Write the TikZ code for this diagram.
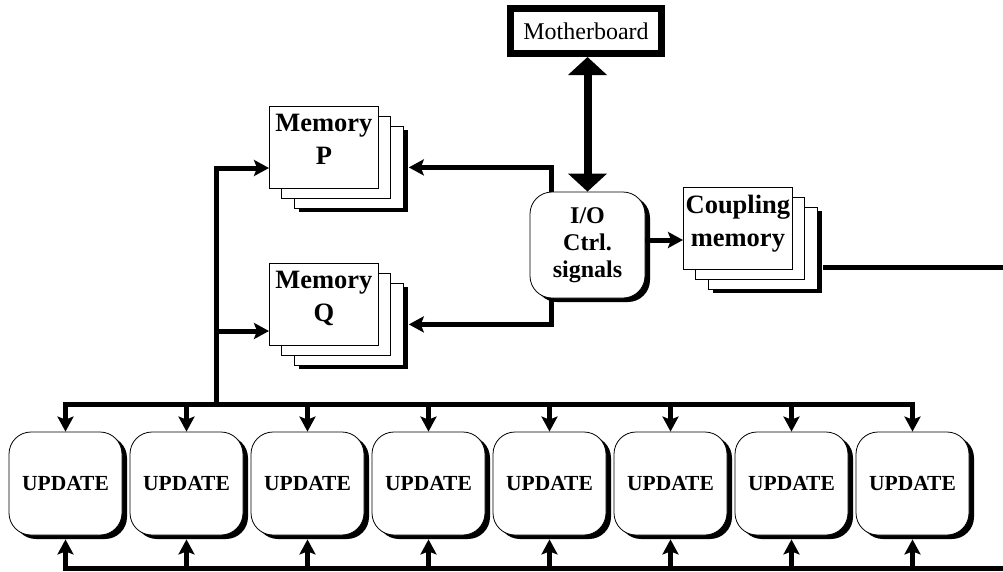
\documentclass[tikz,border=0pt]{standalone}
\usepackage{fontspec}
\setmainfont{Liberation Serif}
\usetikzlibrary{arrows.meta,positioning,calc,shadows}
\tikzset{
  sheet/.style={draw,line width=0.8pt,fill=white,minimum width=109pt,minimum height=82pt,inner sep=0pt,anchor=north west},
  deep/.style={drop shadow={shadow xshift=4.5pt,shadow yshift=-4pt,fill=black,opacity=1}},
  memtext/.style={anchor=north,align=center,inner sep=0pt,font=\fontsize{26.5}{33}\selectfont\bfseries},
  unit/.style={draw,line width=0.8pt,fill=white,rounded corners=22pt,minimum width=113pt,minimum height=103pt,inner sep=0pt,
    drop shadow={shadow xshift=5pt,shadow yshift=-4pt,fill=black,opacity=1}},
  bus/.style={line width=5pt,line cap=rect},
  feed/.style={line width=5pt,-{Stealth[length=15pt,width=16pt,inset=3pt]}},
}
\begin{document}
\begin{tikzpicture}[x=1pt,y=-1pt,line join=miter]
\useasboundingbox[fill=white] (0,0) rectangle (1003,571);
% memory stacks
\foreach \nm/\x/\y/\txt in {memP/269/106/{Memory\\P},memQ/269/263/{Memory\\Q},coup/683/187/{Coupling\\memory}}{
  \node[sheet,deep] (\nm3) at (\x+25,\y+20) {};
  \node[sheet] (\nm2) at (\x+12,\y+10) {};
  \node[sheet] (\nm) at (\x,\y) {};
  \node[memtext] (\nm-txt) at ([yshift=-8pt]\nm.north) {\txt};
}
\node[draw,line width=7pt,minimum width=151pt,minimum height=45pt,inner sep=0pt,font=\fontsize{24}{28}\selectfont] (mb) at (586,31) {Motherboard};
\node[unit,minimum width=115pt,minimum height=106pt,align=center,font=\fontsize{24}{27}\selectfont\bfseries] (io) at (587.5,245) {I/O\\Ctrl.\\signals};
\foreach \i in {1,...,8}
  \node[unit,font=\fontsize{21.5}{25}\selectfont\bfseries] (u\i) at (65.5+121*\i-121,483.5) {UPDATE};
% junctions
\coordinate (tapP) at (216,168);
\coordinate (tapQ) at (216,331);
\coordinate (tapB) at (216,404);
\coordinate (retR) at (1003,568);
\coordinate (coupR) at (1003,267);
% connectors
\draw[line width=8pt,{Triangle[length=18pt,width=38pt]}-{Triangle[length=18pt,width=38pt]}] (io.north) -- (io.north |- mb.south);
\draw[feed] ([xshift=22pt]io.north west) |- ([xshift=5pt]memP3.east);
\draw[feed] ([xshift=22pt]io.south west) |- ([xshift=5pt]memQ3.east);
\draw[feed] ([yshift=5pt]io.east) -- ([yshift=5pt]io.east -| coup.west);
\draw[line width=5pt] (coupR -| coup3.east) ++(5,0) -- (coupR);
\draw[feed] (tapP) -- (tapP -| memP.west);
\draw[feed] (tapQ) -- (tapQ -| memQ.west);
\draw[bus] (tapP) -- (tapB);
\draw[bus] (u1.north |- tapB) -- (u8.north |- tapB);
\draw[bus] (u1.south |- retR) -- (retR);
\foreach \i in {1,...,8}{
  \draw[feed] (u\i.north |- tapB) -- (u\i.north);
  \draw[feed] (u\i.south |- retR) -- ([yshift=-4pt]u\i.south);
}
\end{tikzpicture}
\end{document}
